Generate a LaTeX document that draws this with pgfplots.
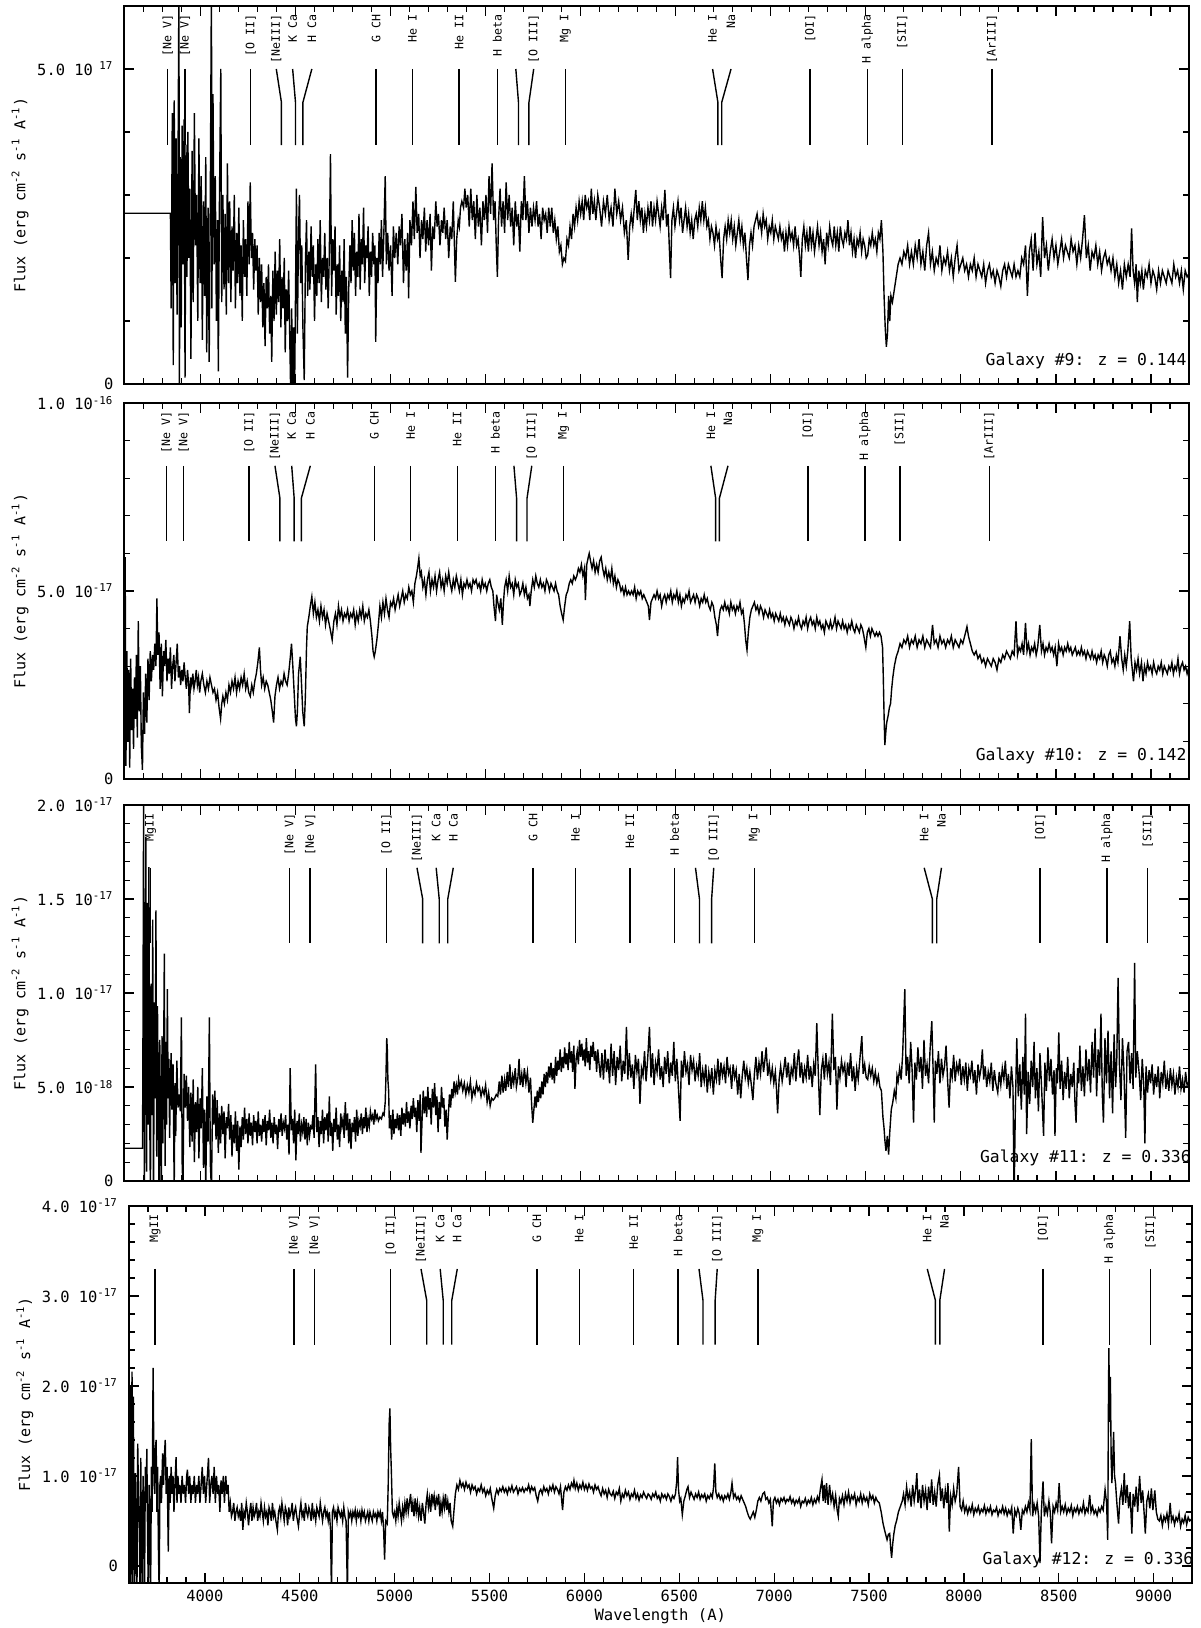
\documentclass[border=0pt]{standalone}
\usepackage{pgfplots}
\pgfplotsset{compat=1.18}
\usepackage{pgfplotstable}
\usepackage{fontspec}
\setmainfont{DejaVu Sans Mono}

% spectra, flux in units of 1e-17 (panel 3: 1e-18)
\pgfplotstableread{
x y
3600 2.71
3842 2.71
3846 1.2
3852 4.3
3857 0.3
3862 4.5
3867 1.6
3872 3.9
3877 1.1
3882 3.4
3887 6.5
3889 -0.3
3894 3.6
3899 0.9
3904 4.1
3909 1.9
3914 4.2
3919 0.1
3924 3.8
3929 1.7
3934 4.0
3939 2.0
3944 3.1
3950 0.4
3956 3.7
3962 1.3
3968 4.3
3974 2.2
3980 3.0
3986 1.0
3992 3.9
3998 1.6
4004 3.3
4010 0.7
4016 2.9
4022 1.4
4028 3.6
4033 0.5
4040 2.8
4046 0.35
4052 3.0
4058 6.5
4060 1.2
4066 4.6
4072 1.9
4078 3.3
4084 1.0
4090 2.6
4094 0.2
4100 2.9
4107 5.0
4112 1.3
4118 3.0
4124 1.5
4130 2.7
4136 1.1
4142 3.5
4148 1.6
4154 2.9
4160 1.3
4166 2.5
4172 1.8
4178 3.0
4184 1.2
4190 2.4
4196 1.6
4202 2.8
4208 1.4
4214 2.2
4220 1.0
4226 2.6
4232 1.7
4238 2.3
4244 1.4
4250 2.9
4256 1.9
4262 3.2
4268 2.0
4274 2.4
4280 1.5
4286 2.3
4292 1.8
4298 2.2
4304 1.1
4310 2.0
4316 1.3
4322 1.9
4328 0.9
4334 1.6
4340 0.6
4346 1.7
4352 1.2
4358 1.9
4364 0.8
4370 1.4
4375 0.35
4381 1.8
4387 1.0
4393 2.1
4399 1.1
4405 1.8
4411 1.3
4417 2.3
4423 0.9
4429 1.7
4435 1.2
4441 2.0
4446 0.5
4452 1.5
4458 1.0
4464 1.8
4470 0.7
4475 -0.2
4480 1.2
4485 -0.3
4490 0.9
4495 -0.2
4500 1.4
4505 3.1
4510 0.8
4516 2.4
4521 3.0
4527 1.6
4533 2.2
4539 0.9
4546 0.06
4552 1.9
4558 2.6
4564 1.4
4570 2.1
4576 1.5
4582 2.5
4588 1.7
4594 2.2
4600 1.0
4606 1.9
4612 1.4
4618 2.3
4624 1.6
4630 2.6
4636 1.3
4642 2.0
4648 1.7
4654 2.4
4660 1.5
4666 2.0
4672 1.2
4678 2.1
4684 3.65
4690 1.4
4696 2.3
4702 1.8
4708 2.5
4714 1.1
4720 1.9
4726 1.4
4732 2.2
4738 1.0
4744 1.8
4750 1.3
4756 2.3
4762 0.8
4768 1.7
4774 0.1
4780 1.5
4786 2.2
4792 1.6
4798 2.6
4804 1.8
4810 2.4
4816 1.4
4822 2.1
4828 1.7
4834 2.7
4840 1.5
4846 2.3
4852 1.9
4858 2.8
4864 1.6
4870 2.2
4876 2.0
4882 2.5
4888 1.4
4894 2.1
4900 1.7
4906 2.4
4912 1.9
4918 2.2
4922 0.67
4928 2.0
4934 1.6
4940 2.4
4946 1.9
4952 2.6
4958 1.7
4964 2.3
4972 3.3
4978 1.9
4985 2.4
4992 1.8
5000 2.2
5008 1.4
5015 2.5
5022 2.0
5030 2.4
5038 1.9
5045 2.5
5052 2.2
5060 2.7
5068 1.6
5075 2.3
5082 1.8
5090 2.4
5095 1.36
5102 2.6
5110 2.2
5118 2.9
5125 2.3
5133 3.13
5140 2.4
5148 2.7
5155 2.0
5163 2.6
5170 2.3
5178 2.8
5185 2.1
5192 2.6
5200 2.2
5208 2.7
5215 1.8
5222 2.5
5230 2.3
5238 2.9
5245 2.5
5252 2.7
5260 2.2
5268 2.6
5275 2.4
5282 2.8
5290 2.3
5298 2.6
5306 2.0
5314 2.5
5322 2.3
5330 2.9
5336 2.2
5341 1.62
5348 2.3
5356 2.6
5362 2.5
5368 2.8
5375 2.9
5384 2.8
5391 3.1
5398 2.8
5406 3.0
5414 2.5
5422 3.1
5430 2.6
5438 2.9
5446 2.3
5454 3.0
5462 2.5
5470 2.8
5478 2.2
5486 2.9
5494 2.6
5502 3.0
5510 2.4
5518 3.3
5526 2.7
5534 3.5
5542 2.6
5550 2.9
5556 2.2
5562 1.7
5568 2.6
5576 3.1
5584 2.5
5592 2.9
5600 2.4
5608 3.2
5616 2.6
5624 3.0
5632 2.5
5640 2.8
5648 2.2
5656 2.9
5664 2.5
5672 2.7
5680 2.1
5688 2.9
5696 2.6
5704 3.3
5712 2.6
5720 2.9
5728 2.4
5736 2.8
5744 2.5
5752 2.8
5760 2.6
5768 2.9
5776 2.5
5784 2.7
5792 2.3
5800 2.8
5808 2.6
5816 2.7
5824 2.4
5832 2.8
5840 2.5
5848 2.8
5856 2.4
5864 2.6
5872 2.3
5880 2.5
5888 2.1
5896 2.2
5904 1.9
5912 2.0
5920 1.95
5928 2.3
5936 2.2
5944 2.5
5952 2.3
5960 2.7
5968 2.5
5976 2.8
5984 2.6
5992 2.9
6000 2.7
6008 2.9
6016 2.6
6024 3.0
6032 2.8
6040 2.9
6048 2.6
6056 3.1
6064 2.7
6072 2.9
6080 2.6
6090 3.0
6100 2.8
6110 2.5
6120 2.9
6130 2.7
6140 3.0
6150 2.6
6160 2.8
6170 2.5
6180 3.1
6190 2.7
6200 2.9
6210 2.6
6220 2.8
6230 2.4
6240 2.6
6250 1.97
6258 2.5
6266 2.7
6274 2.5
6282 2.8
6290 3.08
6298 2.6
6306 2.9
6314 2.6
6322 2.8
6330 2.4
6338 2.7
6346 2.5
6354 2.8
6362 2.6
6370 2.9
6378 2.5
6386 2.8
6394 2.6
6402 2.9
6410 2.7
6418 2.5
6426 2.8
6434 2.6
6443 3.08
6452 2.5
6460 2.7
6466 2.2
6473 1.68
6480 2.6
6488 2.8
6496 2.5
6504 2.7
6512 2.9
6520 2.6
6528 2.8
6536 2.4
6544 2.6
6552 2.8
6560 2.5
6568 2.7
6576 2.4
6584 2.6
6592 2.3
6600 2.6
6608 2.7
6616 2.5
6624 2.8
6632 2.6
6640 2.9
6648 2.6
6656 2.8
6664 2.5
6672 2.6
6680 2.3
6688 2.5
6696 2.4
6704 2.2
6712 2.5
6720 2.3
6728 2.4
6736 2.0
6744 1.68
6752 2.3
6760 2.5
6768 2.3
6776 2.6
6784 2.4
6792 2.6
6800 2.3
6808 2.5
6816 2.2
6824 2.4
6832 2.6
6840 2.3
6848 2.5
6856 2.2
6864 2.4
6872 2.0
6880 1.65
6888 2.2
6896 2.4
6904 2.2
6912 2.5
6920 2.6
6928 2.7
6936 2.5
6944 2.6
6952 2.4
6960 2.7
6968 2.5
6976 2.6
6984 2.3
6992 2.5
7000 2.4
7008 2.6
7016 2.3
7024 2.5
7032 2.4
7040 2.3
7048 2.5
7056 2.3
7064 2.4
7072 2.1
7080 2.4
7088 2.2
7096 2.5
7104 2.3
7112 2.4
7120 2.2
7128 2.5
7136 2.2
7144 2.3
7152 2.0
7158 1.7
7166 2.3
7174 2.5
7182 2.2
7190 2.4
7198 2.1
7206 2.5
7214 2.2
7222 2.4
7230 2.1
7238 2.3
7246 2.5
7254 2.2
7262 2.4
7270 2.1
7278 2.3
7286 1.9
7294 2.4
7302 2.2
7310 2.5
7318 2.3
7326 2.2
7334 2.5
7342 2.2
7350 2.4
7358 2.1
7366 2.5
7374 2.3
7382 2.2
7390 2.4
7398 2.3
7406 2.6
7414 2.2
7422 2.4
7430 2.1
7438 2.3
7446 2.0
7454 2.3
7462 2.2
7470 2.4
7478 2.1
7486 2.3
7494 2.2
7502 2.0
7510 2.05
7518 2.3
7526 2.2
7534 2.4
7542 2.2
7550 2.3
7558 2.1
7566 2.4
7574 2.3
7582 2.6
7590 2.1
7596 1.4
7602 0.9
7608 0.59
7614 0.8
7620 1.4
7626 1.0
7632 1.4
7640 1.3
7650 1.5
7660 1.7
7670 1.9
7680 2.0
7690 1.9
7700 2.1
7710 2.0
7720 2.2
7730 1.9
7740 2.1
7750 1.9
7760 2.2
7770 2.0
7780 2.3
7790 1.9
7800 2.1
7810 1.8
7820 2.2
7830 2.4
7840 1.9
7850 2.1
7860 1.8
7870 2.0
7880 1.9
7890 2.2
7900 1.8
7910 2.0
7920 1.9
7930 2.1
7940 1.8
7950 2.0
7960 1.7
7970 2.0
7980 2.2
7990 1.8
8000 1.9
8010 2.0
8020 1.8
8030 1.9
8040 1.7
8050 1.9
8060 1.8
8070 2.0
8080 1.7
8090 1.9
8100 1.8
8110 1.7
8120 1.9
8130 1.6
8140 1.8
8150 1.9
8160 1.7
8170 1.8
8180 1.6
8190 1.8
8200 1.7
8210 1.55
8220 1.8
8230 1.9
8240 1.7
8250 1.9
8260 1.8
8270 1.7
8280 1.9
8290 1.7
8300 1.8
8310 1.7
8320 2.0
8330 1.9
8340 2.2
8350 1.4
8360 2.1
8370 2.3
8380 1.8
8390 2.4
8400 1.9
8410 2.1
8420 1.7
8430 2.65
8440 2.0
8450 2.2
8460 1.8
8470 2.1
8480 2.3
8490 2.0
8500 2.2
8510 1.9
8520 2.1
8530 2.3
8540 2.0
8550 2.2
8560 2.1
8570 2.0
8580 2.3
8590 2.1
8600 2.2
8610 1.9
8620 2.2
8630 2.0
8640 2.3
8650 2.68
8660 2.0
8670 2.2
8680 1.8
8690 2.1
8700 2.0
8710 2.2
8720 1.9
8730 2.1
8740 1.8
8750 2.0
8760 2.1
8770 1.9
8780 2.0
8790 1.8
8800 2.0
8810 1.7
8820 1.9
8830 1.6
8840 1.8
8850 1.5
8860 1.9
8870 1.7
8880 1.9
8890 1.7
8898 2.47
8906 1.8
8914 1.6
8922 1.9
8928 1.3
8936 1.8
8944 1.6
8952 1.8
8960 1.5
8970 1.8
8980 1.7
8990 1.9
9000 1.6
9010 1.8
9020 1.7
9030 1.5
9040 1.8
9050 1.6
9060 1.8
9070 1.7
9080 1.6
9090 1.8
9100 1.7
9110 1.6
9120 1.9
9130 1.7
9140 1.8
9150 1.6
9160 1.8
9170 1.5
9180 1.8
9190 1.7
9200 1.75
}\specA

\pgfplotstableread{
x y
3600 4.0
3604 5.9
3608 0.35
3613 3.4
3618 1.0
3623 2.9
3628 0.3
3633 3.2
3638 1.3
3643 2.4
3648 0.8
3653 2.7
3658 1.6
3663 3.3
3668 1.1
3673 4.2
3678 1.8
3684 3.0
3689 0.9
3695 0.24
3700 2.3
3706 1.2
3712 2.8
3718 1.5
3724 3.2
3730 2.1
3736 3.4
3742 2.6
3748 3.3
3754 2.9
3760 3.6
3766 3.0
3771 4.8
3776 3.3
3782 3.9
3788 2.4
3794 3.6
3800 2.2
3806 3.4
3812 3.0
3818 3.7
3824 2.6
3830 3.2
3836 2.8
3842 3.5
3848 2.4
3854 3.0
3860 3.3
3866 2.6
3872 3.1
3878 3.6
3884 2.7
3890 3.0
3896 2.5
3902 2.9
3908 2.6
3914 3.1
3920 2.7
3926 2.4
3932 2.9
3938 2.5
3942 1.75
3948 2.7
3954 2.5
3960 2.8
3966 2.4
3972 2.6
3978 2.9
3984 2.5
3990 2.7
3996 2.3
4002 2.6
4010 2.8
4018 2.5
4026 2.3
4034 2.6
4042 2.4
4050 2.7
4058 2.5
4066 2.3
4074 2.4
4082 2.1
4090 2.3
4098 1.9
4106 1.6
4112 2.0
4118 2.2
4126 2.0
4134 2.3
4142 2.1
4150 2.5
4158 2.3
4166 2.6
4174 2.4
4182 2.7
4190 2.3
4198 2.6
4206 2.4
4214 2.7
4222 2.5
4230 2.8
4238 2.4
4246 2.6
4254 2.3
4262 2.2
4270 2.5
4278 2.3
4286 2.6
4294 2.8
4302 3.1
4310 3.5
4316 2.9
4322 2.5
4330 2.7
4338 2.4
4346 2.6
4354 2.5
4362 2.3
4370 2.1
4378 1.8
4385 1.5
4392 2.2
4400 2.5
4408 2.7
4416 2.4
4424 2.6
4432 2.5
4440 2.8
4448 2.6
4456 2.5
4464 2.8
4472 3.2
4479 3.6
4486 3.0
4494 2.2
4500 1.6
4505 1.4
4510 1.8
4516 2.8
4525 3.25
4532 2.5
4538 1.8
4546 1.4
4552 2.2
4558 3.5
4562 4.05
4570 4.3
4578 4.6
4586 4.85
4594 4.4
4602 4.7
4610 4.3
4618 4.5
4626 4.2
4634 4.6
4642 4.3
4650 4.5
4658 4.1
4666 4.4
4674 4.2
4682 4.0
4693 3.7
4702 4.2
4710 4.4
4718 4.1
4726 4.6
4734 4.3
4742 4.5
4750 4.2
4758 4.4
4766 4.3
4774 4.5
4782 4.2
4790 4.4
4798 4.3
4806 4.5
4814 4.1
4822 4.4
4830 4.2
4838 4.5
4846 4.3
4854 4.6
4862 4.2
4870 4.4
4878 4.3
4886 4.5
4894 4.2
4902 3.8
4908 3.4
4914 3.25
4920 3.4
4928 3.7
4936 4.1
4944 4.6
4952 4.3
4960 4.7
4968 4.4
4976 4.8
4984 4.5
4992 4.3
5000 4.7
5008 4.6
5016 4.8
5024 4.5
5032 4.7
5040 4.9
5048 4.6
5056 4.8
5064 5.0
5072 4.7
5080 4.9
5088 4.8
5096 5.1
5104 4.9
5112 5.0
5120 4.7
5128 5.2
5136 5.4
5142 5.6
5149 5.87
5156 5.4
5162 5.5
5170 5.1
5178 5.3
5186 4.9
5194 5.3
5202 5.5
5210 5.0
5218 5.3
5226 5.1
5234 5.4
5242 5.0
5250 5.3
5258 5.5
5266 5.1
5274 5.3
5282 5.0
5290 5.4
5298 5.2
5306 5.5
5314 5.2
5322 5.0
5330 5.3
5338 5.1
5346 5.4
5354 5.2
5362 5.0
5370 5.3
5378 4.9
5386 5.2
5394 5.1
5402 5.3
5410 5.1
5418 5.2
5426 5.0
5434 5.3
5442 5.2
5450 5.3
5458 5.1
5466 5.2
5474 5.0
5482 5.3
5490 5.1
5498 5.2
5506 5.0
5514 5.2
5522 5.3
5530 5.1
5538 5.0
5544 4.6
5552 4.2
5558 4.9
5564 4.7
5572 4.5
5580 4.8
5588 4.1
5594 4.7
5600 5.1
5608 5.3
5616 5.0
5624 5.4
5632 5.1
5640 5.2
5648 4.9
5656 5.3
5664 5.1
5672 5.2
5680 4.9
5688 5.0
5696 5.2
5704 4.9
5712 5.1
5720 4.8
5728 4.9
5733 4.6
5740 5.0
5748 5.3
5756 5.1
5764 5.4
5772 5.2
5780 5.1
5788 5.3
5796 5.1
5804 5.2
5812 5.0
5820 5.3
5828 5.2
5836 5.0
5844 5.2
5852 5.1
5860 5.0
5868 5.2
5876 5.0
5884 4.9
5892 4.6
5900 4.4
5908 4.23
5916 4.6
5924 4.9
5932 5.0
5940 5.2
5948 5.3
5956 5.2
5964 5.4
5972 5.3
5980 5.4
5988 5.6
5996 5.5
6004 5.7
6012 5.4
6020 5.6
6025 4.76
6032 5.7
6040 5.9
6045 6.0
6052 5.8
6060 5.6
6068 5.8
6076 5.5
6084 5.7
6092 5.5
6100 5.8
6108 5.9
6116 5.6
6124 5.4
6132 5.6
6140 5.3
6148 5.5
6156 5.3
6164 5.6
6172 5.2
6180 5.4
6188 5.1
6196 5.3
6204 5.2
6212 5.0
6220 5.1
6228 4.9
6236 5.1
6244 4.9
6252 5.0
6260 4.9
6268 5.0
6276 4.9
6284 5.1
6292 4.8
6300 5.0
6308 4.9
6316 5.0
6324 4.8
6332 4.9
6340 4.8
6348 4.7
6356 4.6
6362 4.23
6370 4.7
6378 4.8
6386 4.9
6394 4.8
6402 5.0
6410 4.8
6418 4.9
6426 4.6
6434 4.8
6442 4.9
6450 4.7
6458 4.9
6466 4.8
6474 5.0
6482 4.7
6490 4.9
6498 4.8
6506 5.0
6514 4.7
6522 4.9
6530 4.6
6538 4.8
6546 4.7
6554 4.9
6562 4.8
6570 5.0
6578 4.7
6586 4.8
6594 4.9
6602 4.7
6610 4.9
6618 4.8
6626 4.6
6634 4.8
6642 4.7
6650 4.9
6658 4.7
6666 4.8
6674 4.6
6682 4.5
6690 4.7
6698 4.6
6706 4.3
6714 4.1
6720 3.8
6726 4.2
6734 4.5
6742 4.6
6750 4.5
6758 4.7
6766 4.5
6774 4.6
6782 4.4
6790 4.7
6798 4.5
6806 4.6
6814 4.4
6822 4.6
6830 4.5
6838 4.7
6846 4.4
6854 4.5
6862 4.1
6868 3.7
6875 3.43
6882 3.9
6890 4.3
6898 4.5
6906 4.6
6914 4.7
6922 4.5
6930 4.6
6938 4.4
6946 4.6
6954 4.5
6962 4.3
6970 4.5
6978 4.4
6986 4.3
6994 4.5
7002 4.3
7010 4.4
7018 4.2
7026 4.4
7034 4.3
7042 4.2
7050 4.4
7058 4.2
7066 4.3
7074 4.1
7082 4.3
7090 4.2
7098 4.1
7106 4.3
7114 4.2
7122 4.0
7130 4.2
7138 4.1
7146 4.3
7154 4.1
7162 4.0
7170 4.2
7178 4.1
7186 4.3
7194 4.0
7202 4.2
7210 4.3
7218 4.1
7226 4.2
7234 4.0
7242 4.3
7250 4.1
7258 4.2
7266 4.0
7274 4.1
7282 3.9
7290 4.2
7298 4.1
7306 4.0
7314 4.2
7322 4.0
7330 4.1
7338 4.3
7346 4.0
7354 4.2
7362 4.1
7370 4.0
7378 4.2
7386 4.0
7394 4.1
7402 3.9
7410 4.1
7418 4.0
7426 4.2
7434 4.0
7442 3.9
7450 4.1
7458 4.0
7466 3.9
7474 4.1
7482 4.0
7490 3.8
7500 3.5
7508 3.9
7516 4.0
7524 3.8
7532 4.0
7540 3.9
7548 3.8
7556 3.9
7564 3.8
7572 3.9
7580 3.8
7588 3.5
7592 2.7
7596 1.7
7600 0.9
7606 1.3
7610 1.5
7618 1.7
7624 1.9
7630 2.0
7636 2.4
7642 2.7
7650 3.0
7660 3.25
7670 3.4
7680 3.6
7690 3.5
7700 3.7
7710 3.6
7720 3.8
7730 3.5
7740 3.7
7750 3.6
7760 3.8
7770 3.5
7780 3.7
7790 3.6
7800 3.8
7810 3.5
7820 3.7
7830 3.6
7840 3.5
7851 4.1
7860 3.6
7870 3.7
7880 3.5
7890 3.8
7900 3.6
7910 3.7
7920 3.5
7930 3.7
7940 3.6
7950 3.8
7960 3.5
7970 3.7
7980 3.6
7990 3.5
8000 3.7
8010 3.6
8020 3.8
8032 4.05
8040 3.8
8050 3.6
8060 3.4
8070 3.3
8080 3.4
8090 3.2
8100 3.3
8110 3.1
8120 3.2
8130 3.0
8140 3.2
8150 3.1
8160 3.0
8170 3.2
8180 3.1
8190 2.9
8200 3.2
8210 3.1
8220 3.3
8230 3.2
8240 3.4
8250 3.3
8260 3.2
8270 3.4
8280 3.3
8290 4.2
8298 3.3
8306 3.5
8314 3.4
8322 3.6
8330 3.3
8340 4.15
8348 3.4
8356 3.6
8364 3.3
8372 3.5
8380 3.4
8388 3.6
8396 3.3
8404 3.5
8415 4.1
8424 3.4
8432 3.6
8440 3.3
8448 3.5
8456 3.4
8464 3.6
8472 3.4
8480 3.5
8488 3.3
8496 3.5
8505 3.0
8514 3.6
8522 3.4
8530 3.5
8538 3.3
8546 3.5
8554 3.4
8562 3.6
8570 3.4
8578 3.5
8586 3.3
8594 3.4
8602 3.5
8610 3.3
8618 3.4
8626 3.3
8634 3.5
8642 3.3
8650 3.4
8658 3.2
8666 3.4
8674 3.3
8682 3.2
8690 3.4
8698 3.2
8706 3.3
8714 3.1
8722 3.3
8730 3.2
8738 3.4
8746 3.1
8754 3.3
8762 3.2
8770 3.0
8778 3.3
8786 3.4
8794 3.1
8802 3.2
8810 3.0
8818 3.3
8826 3.1
8837 3.8
8846 3.2
8854 2.9
8862 3.3
8870 3.0
8878 3.4
8888 4.2
8896 3.2
8908 2.6
8916 3.1
8924 2.9
8932 3.2
8940 2.8
8950 3.1
8958 2.6
8966 3.0
8974 2.8
8982 3.1
8990 2.9
8998 3.0
9006 2.8
9014 3.1
9022 2.9
9030 2.8
9038 3.0
9046 2.9
9054 3.1
9062 2.8
9070 3.0
9078 2.9
9086 2.8
9094 3.0
9102 2.9
9110 3.1
9118 2.8
9126 3.0
9134 2.9
9142 3.2
9150 2.8
9158 3.0
9166 3.1
9174 2.9
9182 3.0
9190 2.8
9200 3.0
}\specB

\pgfplotstableread{
x y
3600 1.74
3695 1.74
3697 5.4
3701 20.5
3705 -1
3709 6.8
3713 18.3
3717 0.5
3721 14.8
3725 3.0
3729 16.7
3733 3.9
3737 -1
3741 10.5
3745 3.5
3749 13.9
3753 -1
3758 9.5
3762 4.4
3766 14.4
3770 1.3
3774 9.3
3778 4.8
3782 -1
3786 7.5
3790 2.5
3794 -0.5
3798 7.7
3802 2.0
3806 5.9
3810 12.1
3814 0.8
3818 7.4
3822 3.0
3826 10.2
3830 4.4
3834 6.5
3838 2.3
3842 5.5
3846 6.8
3850 3.8
3856 6.2
3862 -0.5
3866 5.2
3870 2.4
3876 6.4
3882 3.9
3888 4.6
3894 3.7
3900 8.7
3904 0.9
3908 -0.5
3914 5.7
3920 3.9
3926 5.6
3932 3.2
3938 5.0
3944 1.8
3950 4.7
3956 2.1
3962 5.4
3968 1.0
3974 4.2
3980 2.6
3986 5.0
3992 1.2
3998 4.4
4004 2.8
4010 6.0
4016 0.7
4022 3.8
4028 -0.4
4034 4.5
4040 2.1
4047 8.7
4052 0.9
4058 -0.5
4064 4.6
4070 3.0
4076 4.8
4082 2.2
4088 4.3
4094 1.5
4100 3.6
4106 2.0
4112 4.0
4118 2.5
4124 3.7
4130 1.2
4136 3.4
4142 2.8
4148 4.1
4154 2.2
4160 3.5
4166 1.3
4172 3.0
4178 2.0
4184 3.7
4190 1.6
4196 3.2
4202 0.6
4208 2.9
4214 1.8
4220 3.4
4226 2.2
4232 3.9
4238 2.5
4244 3.3
4250 2.0
4256 3.6
4262 2.4
4268 3.1
4274 1.9
4280 3.5
4286 2.6
4292 3.2
4298 2.0
4304 3.7
4310 2.4
4316 3.0
4322 2.1
4328 3.3
4334 2.6
4340 3.5
4346 1.9
4352 3.2
4358 2.7
4364 3.8
4370 2.3
4376 3.1
4382 2.0
4388 3.4
4394 2.5
4400 3.0
4406 1.7
4412 3.3
4418 2.6
4424 3.6
4430 2.4
4436 3.1
4442 2.8
4448 3.5
4454 2.2
4460 3.0
4466 1.4
4472 6.0
4478 2.7
4484 3.3
4490 2.0
4496 3.8
4502 1.1
4508 3.2
4514 2.5
4520 3.6
4526 2.1
4532 3.0
4538 2.6
4544 3.4
4550 2.2
4556 3.3
4562 1.9
4568 3.1
4574 2.4
4580 2.9
4586 2.8
4592 3.5
4598 2.3
4606 6.2
4612 2.6
4618 3.4
4624 1.8
4630 3.2
4636 2.5
4642 3.8
4648 2.0
4654 3.4
4660 2.7
4666 3.6
4672 2.1
4678 4.5
4684 2.4
4690 3.1
4696 1.6
4702 3.3
4708 2.6
4714 3.9
4720 2.2
4726 3.0
4732 1.8
4738 3.6
4744 2.9
4750 3.3
4756 2.3
4762 4.2
4768 2.7
4774 3.6
4780 2.0
4786 3.3
4792 1.7
4798 3.1
4804 2.6
4810 3.4
4816 2.1
4822 3.8
4828 2.4
4834 3.2
4840 2.9
4846 3.6
4852 2.5
4858 3.4
4864 2.8
4870 3.9
4876 2.6
4882 3.3
4888 2.9
4894 3.7
4900 3.3
4906 3.5
4912 3.0
4918 3.8
4924 3.3
4930 3.5
4936 3.2
4944 3.4
4952 3.3
4960 3.6
4966 3.5
4972 4.2
4976 5.6
4980 7.6
4983 7.0
4986 5.4
4990 4.8
4994 2.8
5000 3.5
5006 2.2
5012 3.8
5018 2.5
5024 3.3
5030 2.8
5036 3.6
5042 2.7
5048 3.5
5054 2.4
5060 3.9
5066 3.0
5072 3.6
5078 2.9
5084 4.2
5090 3.1
5096 3.7
5102 2.8
5108 4.0
5114 3.3
5120 4.4
5126 3.4
5132 3.9
5138 2.6
5144 4.3
5150 3.2
5156 4.6
5160 1.5
5166 3.3
5172 4.8
5178 3.6
5184 4.5
5190 3.4
5196 5.0
5202 3.8
5208 4.4
5214 3.0
5220 4.9
5226 3.9
5232 5.2
5238 3.5
5244 4.5
5250 2.6
5256 4.2
5262 3.3
5268 5.0
5274 3.9
5280 4.4
5286 2.9
5292 3.8
5298 2.2
5304 3.5
5310 4.6
5316 3.9
5322 4.9
5328 4.4
5334 5.3
5340 4.7
5346 5.1
5352 4.6
5358 5.4
5364 5.0
5372 5.3
5380 4.8
5388 5.2
5396 4.6
5404 5.1
5412 4.7
5420 5.3
5428 4.4
5436 4.9
5444 4.6
5452 5.2
5460 4.8
5468 5.0
5476 4.5
5484 4.9
5492 4.6
5500 5.1
5508 4.2
5516 4.7
5524 4.0
5532 4.4
5540 4.3
5548 4.4
5556 4.6
5564 4.5
5572 5.3
5578 4.6
5586 5.6
5592 4.7
5600 5.4
5606 4.8
5614 5.8
5620 5.0
5628 6.2
5634 4.9
5642 5.6
5648 5.2
5656 6.0
5662 5.0
5670 5.5
5676 6.5
5682 5.1
5690 5.7
5696 5.0
5704 6.0
5712 5.2
5720 5.8
5728 4.7
5736 5.5
5742 4.1
5748 3.1
5754 3.8
5760 4.5
5766 3.9
5772 4.8
5778 4.2
5784 5.0
5790 4.4
5796 5.3
5802 4.6
5808 5.7
5814 5.0
5820 5.8
5826 5.2
5832 6.1
5838 5.5
5844 6.3
5850 5.4
5856 6.0
5862 5.2
5868 6.6
5874 5.6
5880 6.4
5886 5.9
5892 7.0
5898 5.8
5904 6.6
5910 6.0
5916 7.1
5922 6.2
5928 6.8
5934 5.9
5940 7.4
5946 6.3
5952 6.9
5958 5.8
5964 7.2
5970 4.9
5976 6.5
5982 6.9
5988 6.2
5994 7.5
6000 6.6
6006 7.3
6012 6.4
6018 7.0
6024 6.1
6030 7.6
6036 6.3
6042 6.9
6048 5.9
6054 7.2
6060 6.6
6066 7.4
6072 6.4
6078 6.9
6084 5.8
6090 7.0
6096 6.3
6104 5.5
6112 6.8
6120 5.4
6128 7.0
6136 5.8
6144 6.5
6152 5.2
6160 7.3
6168 5.6
6176 6.9
6184 5.1
6192 6.6
6200 5.9
6208 7.2
6216 5.3
6224 6.4
6232 5.7
6241 8.2
6248 5.4
6256 6.8
6264 5.5
6272 6.2
6280 4.9
6288 6.7
6296 5.8
6304 6.5
6312 4.1
6320 6.0
6328 5.6
6336 6.9
6344 5.3
6352 6.4
6362 8.2
6370 5.5
6378 6.8
6386 5.1
6394 6.3
6402 5.8
6410 7.0
6418 5.4
6426 6.1
6434 5.0
6442 6.6
6450 5.7
6458 6.9
6466 5.2
6474 6.3
6482 5.6
6490 7.4
6498 5.3
6506 6.5
6514 5.0
6523 3.2
6530 6.4
6538 5.5
6546 6.9
6554 5.8
6562 6.2
6570 5.1
6578 6.7
6586 5.9
6594 6.4
6602 5.3
6610 6.1
6618 5.6
6626 6.8
6634 5.0
6642 5.9
6650 5.3
6658 6.2
6666 4.7
6674 5.8
6682 5.2
6690 6.0
6698 4.6
6706 5.9
6714 5.4
6722 6.5
6730 5.1
6738 6.3
6746 5.6
6754 6.1
6762 5.2
6770 6.6
6778 5.7
6786 6.0
6794 4.9
6802 6.2
6810 5.5
6818 5.9
6826 4.6
6834 5.7
6842 4.4
6850 5.6
6858 6.4
6866 5.5
6874 6.0
6882 5.2
6890 5.8
6898 5.1
6906 4.3
6914 5.7
6922 6.6
6930 5.4
6938 6.3
6946 5.7
6954 6.9
6962 5.8
6970 6.5
6976 7.1
6984 5.6
6992 6.2
7000 5.4
7008 6.0
7016 5.2
7024 5.8
7030 4.9
7036 3.6
7044 5.4
7052 6.1
7060 5.3
7068 5.9
7076 6.6
7084 5.5
7092 6.3
7100 5.1
7108 6.0
7116 5.6
7124 6.8
7132 5.3
7140 6.4
7147 7.0
7154 5.5
7162 6.3
7170 5.2
7178 6.0
7186 5.5
7194 6.7
7202 5.4
7210 6.1
7218 5.0
7226 6.2
7234 5.6
7242 8.4
7250 5.8
7258 3.5
7266 5.9
7274 6.5
7282 5.4
7290 6.8
7298 5.7
7306 6.3
7314 5.1
7324 8.9
7332 5.9
7340 6.6
7348 3.8
7356 6.1
7364 5.5
7372 6.4
7380 5.8
7389 6.2
7396 5.0
7404 6.3
7412 5.6
7420 6.8
7428 5.3
7436 6.1
7444 4.8
7452 6.0
7460 5.4
7468 6.4
7479 7.7
7486 5.7
7494 6.2
7502 5.5
7510 5.4
7518 6.1
7526 5.6
7534 6.0
7542 5.3
7550 5.8
7558 5.2
7566 5.6
7574 5.0
7582 4.8
7590 3.4
7596 2.8
7600 2.2
7606 1.6
7613 2.4
7620 1.4
7626 2.6
7634 3.8
7642 4.2
7650 4.8
7658 4.4
7664 5.6
7670 5.3
7678 6.0
7686 5.4
7694 6.8
7705 10.2
7712 5.6
7720 6.6
7728 5.2
7736 7.4
7744 5.8
7751 3.1
7758 6.3
7766 5.4
7774 7.1
7782 5.8
7790 6.6
7798 4.9
7806 7.5
7814 5.6
7822 6.2
7830 5.2
7838 7.0
7847 8.5
7854 5.9
7860 3.1
7866 6.4
7874 5.7
7882 6.9
7890 5.2
7898 6.5
7906 5.6
7914 6.1
7922 7.2
7930 5.4
7938 3.9
7946 6.0
7954 5.5
7962 6.7
7970 5.3
7978 6.2
7986 5.8
7994 6.5
8002 5.1
8010 6.1
8018 5.4
8026 6.3
8034 4.8
8042 6.0
8050 5.6
8058 6.4
8066 5.2
8074 5.9
8082 4.6
8090 6.2
8098 5.5
8106 6.0
8113 7.0
8120 5.4
8128 6.1
8136 5.0
8144 5.8
8152 5.3
8160 6.3
8168 4.8
8176 5.9
8184 5.2
8194 4.7
8202 5.8
8210 5.1
8218 6.0
8226 5.4
8234 6.4
8242 4.9
8250 5.7
8258 4.4
8266 6.1
8274 5.0
8280 -1.0
8286 3.5
8294 7.6
8302 4.5
8310 6.2
8318 3.8
8326 6.6
8334 4.6
8340 8.9
8346 2.5
8354 5.8
8362 4.1
8370 6.4
8378 5.0
8385 7.4
8392 4.4
8400 6.0
8408 3.7
8416 6.8
8424 5.1
8435 2.4
8442 6.3
8450 4.8
8458 7.1
8466 5.3
8474 6.5
8482 4.6
8490 5.9
8495 2.4
8502 6.0
8508 5.2
8515 7.9
8522 4.9
8530 6.4
8538 4.3
8546 5.8
8554 4.9
8562 6.6
8570 4.4
8578 5.7
8586 5.0
8594 6.3
8600 4.2
8606 3.1
8614 6.0
8620 5.2
8626 7.2
8634 4.8
8642 6.1
8650 4.5
8658 7.0
8666 5.3
8674 6.5
8682 4.7
8690 7.4
8698 5.5
8706 8.1
8714 4.5
8722 7.0
8730 5.6
8737 8.9
8744 4.6
8750 3.1
8758 7.6
8766 5.2
8774 8.0
8782 4.4
8790 6.9
8798 3.6
8806 7.8
8814 5.0
8820 6.4
8827 10.8
8834 6.2
8842 4.3
8850 7.6
8858 5.8
8867 2.3
8874 6.9
8882 7.4
8890 5.2
8898 6.8
8906 4.9
8914 11.6
8920 5.5
8928 6.9
8938 5.7
8946 4.3
8954 6.5
8962 5.1
8968 2.0
8974 6.1
8982 4.7
8990 5.9
8998 5.2
9006 6.2
9014 4.6
9022 5.7
9030 5.0
9038 6.1
9046 4.4
9054 5.8
9062 5.2
9070 6.4
9078 4.9
9086 5.6
9094 4.8
9102 6.0
9110 5.1
9118 5.7
9126 4.6
9134 5.5
9142 5.0
9150 6.1
9158 4.9
9166 5.4
9174 4.7
9182 5.8
9190 5.1
9200 5.3
}\specC

\pgfplotstableread{
x y
3600 1.2
3603 0.4
3606 2.0
3609 -0.3
3613 1.4
3616 2.16
3619 -0.3
3623 1.88
3626 0.5
3630 -0.3
3634 1.03
3638 0.3
3642 -0.3
3646 1.36
3650 0.8
3654 0.47
3658 -0.3
3662 1.2
3666 0.2
3670 -0.3
3674 1.0
3678 0.5
3682 -0.3
3686 1.1
3690 0.7
3694 1.3
3698 0.3
3702 -0.3
3706 0.9
3710 0.4
3714 -0.3
3718 1.1
3722 0.6
3727 2.2
3731 1.2
3735 0.8
3739 1.3
3743 1.4
3747 0.6
3751 1.1
3755 0.2
3759 -0.3
3763 0.9
3767 1.0
3771 0.7
3777 1.25
3782 0.9
3786 1.2
3791 1.4
3796 0.8
3801 1.1
3807 0.16
3812 1.0
3817 0.7
3822 1.1
3827 0.8
3832 1.0
3837 0.6
3842 0.9
3848 1.21
3853 0.7
3858 1.0
3863 0.8
3868 0.9
3874 0.7
3880 1.0
3886 0.8
3892 0.9
3898 0.7
3904 1.0
3908 1.07
3914 0.8
3920 1.0
3926 0.7
3932 0.9
3938 0.8
3944 1.0
3950 0.7
3956 0.9
3962 0.8
3968 1.0
3974 0.7
3980 0.9
3986 1.1
3992 0.8
3998 1.0
4004 0.7
4010 0.9
4019 1.2
4025 0.7
4031 0.9
4037 1.0
4043 0.8
4049 1.1
4055 0.7
4061 1.0
4067 0.8
4073 0.9
4079 0.6
4085 0.95
4091 0.8
4097 1.0
4103 0.7
4110 1.0
4116 0.8
4122 0.9
4128 0.6
4134 0.7
4140 0.55
4146 0.6
4152 0.7
4158 0.5
4164 0.6
4170 0.65
4176 0.55
4182 0.6
4188 0.5
4194 0.7
4200 0.4
4206 0.6
4212 0.55
4218 0.7
4224 0.6
4230 0.45
4236 0.6
4242 0.7
4248 0.5
4254 0.65
4260 0.55
4266 0.6
4272 0.7
4278 0.5
4284 0.6
4290 0.55
4296 0.7
4302 0.6
4308 0.5
4314 0.65
4320 0.55
4326 0.6
4332 0.45
4338 0.65
4344 0.6
4350 0.5
4356 0.7
4362 0.55
4368 0.6
4374 0.5
4382 0.4
4388 0.6
4394 0.65
4400 0.55
4406 0.7
4412 0.6
4418 0.5
4424 0.65
4430 0.6
4436 0.45
4442 0.65
4448 0.55
4454 0.6
4460 0.7
4466 0.5
4472 0.6
4478 0.65
4484 0.55
4493 0.44
4500 0.6
4506 0.7
4512 0.55
4518 0.6
4524 0.5
4530 0.7
4536 0.6
4542 0.55
4548 0.65
4554 0.6
4560 0.5
4566 0.7
4572 0.55
4578 0.6
4584 0.5
4590 0.65
4596 0.6
4602 0.55
4608 0.7
4614 0.6
4620 0.5
4626 0.6
4632 0.65
4638 0.55
4644 0.6
4650 0.5
4656 0.6
4662 0.4
4667 -0.3
4672 0.6
4678 0.65
4684 0.55
4690 0.6
4696 0.5
4702 0.65
4708 0.6
4714 0.55
4720 0.6
4726 0.5
4732 0.65
4738 0.55
4744 0.5
4751 -0.3
4756 0.6
4762 0.55
4768 0.6
4774 0.5
4780 0.6
4786 0.55
4792 0.62
4798 0.5
4804 0.6
4810 0.55
4816 0.6
4822 0.5
4828 0.62
4834 0.55
4840 0.6
4846 0.5
4852 0.55
4858 0.6
4864 0.5
4870 0.6
4876 0.55
4882 0.5
4888 0.6
4894 0.55
4900 0.58
4906 0.5
4912 0.6
4918 0.55
4924 0.6
4930 0.5
4936 0.6
4942 0.4
4947 0.07
4953 0.5
4961 0.47
4966 0.9
4971 1.58
4975 1.75
4979 1.3
4983 1.03
4988 0.6
4994 0.55
5000 0.6
5006 0.5
5012 0.65
5018 0.55
5024 0.7
5030 0.6
5036 0.5
5042 0.65
5048 0.55
5054 0.7
5060 0.6
5066 0.75
5072 0.6
5078 0.7
5084 0.8
5090 0.6
5096 0.7
5102 0.55
5108 0.75
5114 0.6
5120 0.7
5126 0.55
5132 0.65
5139 0.5
5146 0.7
5152 0.6
5159 0.47
5166 0.7
5172 0.8
5178 0.65
5184 0.75
5190 0.6
5196 0.8
5202 0.7
5208 0.78
5214 0.62
5220 0.75
5226 0.7
5232 0.8
5238 0.55
5244 0.7
5250 0.6
5256 0.75
5262 0.65
5268 0.8
5274 0.62
5280 0.72
5286 0.6
5292 0.7
5298 0.5
5306 0.44
5312 0.6
5320 0.8
5328 0.9
5336 0.85
5344 0.95
5352 0.88
5360 0.92
5368 0.85
5376 0.93
5384 0.87
5392 0.9
5400 0.82
5408 0.9
5416 0.85
5424 0.88
5432 0.8
5440 0.86
5448 0.83
5456 0.9
5464 0.82
5472 0.86
5480 0.78
5488 0.84
5496 0.8
5504 0.86
5512 0.75
5522 0.64
5530 0.78
5538 0.85
5546 0.8
5554 0.86
5562 0.83
5570 0.88
5578 0.82
5586 0.86
5594 0.8
5602 0.87
5610 0.83
5618 0.89
5626 0.82
5634 0.85
5642 0.88
5650 0.8
5658 0.86
5666 0.83
5674 0.87
5682 0.82
5690 0.86
5698 0.84
5706 0.9
5714 0.82
5722 0.88
5730 0.84
5738 0.87
5746 0.78
5754 0.72
5762 0.82
5770 0.85
5778 0.8
5786 0.88
5794 0.83
5802 0.86
5810 0.8
5818 0.88
5826 0.84
5834 0.9
5842 0.82
5850 0.88
5858 0.85
5866 0.8
5874 0.88
5885 0.62
5892 0.82
5900 0.88
5908 0.84
5916 0.9
5924 0.85
5932 0.92
5940 0.88
5945 0.95
5952 0.86
5960 0.92
5968 0.84
5976 0.9
5984 0.86
5992 0.93
6000 0.85
6008 0.9
6016 0.84
6024 0.91
6032 0.86
6040 0.88
6048 0.82
6056 0.9
6064 0.85
6072 0.88
6080 0.82
6088 0.78
6096 0.86
6104 0.8
6112 0.84
6120 0.76
6128 0.85
6136 0.8
6144 0.78
6152 0.83
6160 0.75
6168 0.82
6176 0.79
6184 0.86
6192 0.72
6200 0.8
6208 0.76
6216 0.84
6224 0.78
6232 0.82
6240 0.74
6248 0.8
6256 0.77
6264 0.84
6272 0.75
6280 0.8
6288 0.73
6296 0.79
6304 0.76
6312 0.82
6320 0.78
6328 0.75
6336 0.8
6344 0.78
6352 0.74
6360 0.8
6368 0.77
6376 0.82
6384 0.75
6392 0.78
6400 0.72
6408 0.8
6416 0.76
6424 0.79
6432 0.74
6440 0.8
6448 0.77
6456 0.72
6464 0.78
6472 0.75
6480 0.8
6487 0.95
6491 1.21
6496 0.85
6502 0.72
6508 0.75
6516 0.57
6524 0.72
6532 0.78
6540 0.85
6546 0.88
6554 0.76
6562 0.82
6570 0.78
6578 0.74
6586 0.8
6594 0.76
6602 0.82
6610 0.74
6618 0.79
6626 0.76
6634 0.8
6642 0.72
6650 0.78
6658 0.75
6666 0.8
6674 0.76
6681 0.88
6687 1.14
6693 0.82
6700 0.76
6708 0.8
6716 0.74
6724 0.78
6732 0.72
6740 0.78
6748 0.75
6756 0.8
6764 0.74
6772 0.82
6778 0.92
6786 0.76
6794 0.8
6802 0.74
6810 0.77
6818 0.72
6826 0.78
6834 0.74
6842 0.7
6850 0.66
6858 0.6
6866 0.55
6874 0.52
6882 0.56
6890 0.6
6898 0.54
6906 0.62
6914 0.72
6922 0.76
6930 0.72
6940 0.8
6949 0.82
6956 0.74
6964 0.76
6972 0.7
6980 0.74
6990 0.44
6996 0.72
7004 0.76
7012 0.7
7020 0.74
7028 0.68
7036 0.75
7044 0.72
7052 0.76
7060 0.7
7068 0.74
7076 0.72
7084 0.77
7092 0.7
7100 0.74
7108 0.68
7116 0.73
7124 0.7
7132 0.75
7140 0.66
7148 0.72
7156 0.7
7164 0.75
7172 0.68
7180 0.73
7188 0.7
7196 0.76
7204 0.68
7212 0.74
7220 0.7
7228 0.77
7236 0.72
7244 0.86
7252 0.96
7258 0.72
7264 0.9
7270 0.7
7276 0.92
7284 0.68
7292 0.9
7300 0.72
7308 0.8
7316 0.66
7324 0.78
7332 0.62
7338 0.55
7344 0.75
7352 0.7
7360 0.78
7368 0.68
7376 0.8
7384 0.72
7392 0.82
7400 0.7
7408 0.78
7416 0.74
7424 0.8
7432 0.68
7440 0.76
7448 0.72
7456 0.8
7464 0.7
7472 0.78
7480 0.72
7488 0.76
7496 0.68
7504 0.8
7512 0.74
7520 0.78
7528 0.7
7536 0.76
7544 0.72
7554 0.7
7564 0.6
7574 0.47
7584 0.38
7595 0.29
7602 0.35
7609 0.36
7614 0.2
7619 0.09
7625 0.25
7631 0.36
7638 0.45
7645 0.5
7655 0.6
7665 0.66
7675 0.72
7682 0.8
7690 0.68
7698 0.88
7706 0.74
7714 0.82
7722 0.66
7730 0.9
7738 0.72
7746 0.86
7752 1.03
7758 0.7
7766 0.85
7774 0.64
7782 0.9
7790 0.72
7798 0.84
7806 0.62
7814 0.88
7822 0.7
7830 0.96
7838 0.68
7846 0.82
7854 0.66
7862 0.9
7871 1.01
7878 0.72
7886 0.86
7894 0.64
7902 0.84
7910 0.7
7916 0.92
7923 0.38
7930 0.78
7938 0.68
7946 0.86
7954 0.72
7962 0.8
7972 1.1
7980 0.66
7988 0.62
7996 0.72
8004 0.6
8012 0.66
8020 0.58
8028 0.65
8036 0.6
8044 0.68
8052 0.57
8060 0.64
8068 0.6
8076 0.66
8084 0.58
8092 0.63
8100 0.6
8108 0.67
8116 0.58
8124 0.64
8132 0.6
8140 0.66
8148 0.57
8156 0.62
8164 0.6
8172 0.65
8180 0.56
8188 0.62
8196 0.59
8204 0.66
8212 0.58
8220 0.64
8228 0.56
8236 0.62
8244 0.58
8252 0.65
8260 0.36
8268 0.62
8276 0.56
8284 0.64
8292 0.58
8300 0.4
8308 0.62
8316 0.58
8324 0.66
8332 0.6
8340 0.7
8348 0.62
8355 1.41
8362 0.55
8370 0.68
8378 0.6
8386 0.7
8394 0.55
8401 0.03
8408 0.6
8417 0.94
8424 0.55
8432 0.66
8440 0.58
8448 0.72
8455 0.6
8462 0.25
8470 0.66
8478 0.6
8486 0.7
8494 0.62
8502 0.92
8510 0.6
8518 0.66
8526 0.6
8534 0.68
8542 0.58
8550 0.64
8558 0.6
8566 0.67
8574 0.56
8582 0.64
8590 0.6
8598 0.66
8606 0.58
8614 0.64
8622 0.6
8630 0.7
8638 0.58
8646 0.64
8654 0.6
8663 0.79
8670 0.6
8678 0.66
8686 0.58
8694 0.62
8702 0.56
8710 0.64
8718 0.6
8726 0.66
8734 0.62
8744 0.85
8752 0.7
8758 0.29
8762 1.9
8764 2.42
8768 1.6
8772 2.1
8776 1.2
8780 0.92
8785 1.2
8789 1.49
8794 1.0
8799 0.92
8806 0.7
8815 0.47
8822 0.75
8830 0.86
8838 0.68
8845 1.03
8852 0.7
8860 0.9
8868 0.64
8876 0.82
8885 0.36
8892 0.8
8900 0.66
8908 0.88
8916 0.6
8926 1.0
8934 0.7
8942 0.84
8950 0.58
8956 0.36
8964 0.72
8972 0.8
8980 0.64
8988 0.86
8996 0.62
9006 0.84
9014 0.6
9022 0.52
9030 0.5
9038 0.56
9046 0.45
9054 0.55
9062 0.5
9070 0.58
9078 0.46
9087 0.7
9094 0.5
9102 0.55
9110 0.46
9118 0.54
9126 0.5
9134 0.58
9142 0.44
9150 0.52
9158 0.48
9166 0.56
9174 0.46
9182 0.54
9190 0.5
9200 0.52
}\specD

\pgfplotsset{
  spec/.style={
    scale only axis, anchor=south west,
    width=532.3pt,
    xmin=3600, xmax=9200,
    xtick={4000,4500,...,9000},
    minor xtick={3700,3800,...,9100},
    xticklabels={},
    tick align=inside,
    major tick length=5pt, minor tick length=3pt,
    tick style={black, line width=0.6pt},
    axis line style={line width=1pt},
    tick label style={font=\fontsize{7.7}{8}\selectfont},
    yticklabel style={xshift=-2pt},
    every axis y label/.style={at={(axis description cs:-0.098,0.5)}, rotate=90, anchor=center,
      font=\fontsize{7.5}{8}\selectfont},
    ylabel={Flux (erg cm\textsuperscript{-2} s\textsuperscript{-1} A\textsuperscript{-1})},
  },
  sp/.style={black, line width=0.7pt, mark=none},
  mk/.style={black, line width=0.7pt, mark=none},
}
\tikzset{
  lbl/.style={rotate=90, anchor=east, inner sep=0pt, font=\fontsize{5.8}{6}\selectfont},
  gal/.style={anchor=base east, inner sep=0pt, font=\fontsize{8.2}{9}\selectfont},
}
\newcommand\mk[3]{%
  \addplot[mk] coordinates {(#1,\yT) (#2,\yK) (#2,\yB)};
  \node[lbl] at (axis cs:#1,\yL) {#3};
}

\begin{document}
\begin{tikzpicture}
\useasboundingbox (0,0) rectangle (600pt,814pt);

% Galaxy 9
\def\yT{5}\def\yK{4.47}\def\yB{3.79}\def\yL{5.87}
\begin{axis}[spec, at={(62.2pt,622pt)}, height=189pt,
  ymin=0, ymax=6, ytick={0,5}, minor ytick={1,2,3,4},
  yticklabels={0, 5.0 10\textsuperscript{ 17}}]
\addplot[sp] table {\specA};
\mk{3828}{3828}{[Ne V]}
\mk{3919}{3919}{[Ne V]}
\mk{4264}{4264}{[O II]}
\mk{4399}{4426}{[NeIII]}
\mk{4485}{4500}{K Ca}
\mk{4586}{4539}{H Ca}
\mk{4924}{4924}{G CH}
\mk{5115}{5115}{He I}
\mk{5361}{5361}{He II}
\mk{5561}{5561}{H beta}
\mk{5659}{5673}{}
\mk{5753}{5728}{[O III]}
\mk{5920}{5920}{Mg I}
\mk{6694}{6722}{He I}
\mk{6791}{6742}{Na}
\mk{7207}{7207}{[OI]}
\mk{7508}{7508}{H alpha}
\mk{7692}{7692}{[SII]}
\mk{8164}{8164}{[ArIII]}
\node[gal] at (rel axis cs:0.998,0.05) {Galaxy \#9: z = 0.144};
\end{axis}

% Galaxy 10
\def\yT{8.33}\def\yK{7.47}\def\yB{6.32}\def\yL{9.78}
\begin{axis}[spec, at={(62.2pt,424.5pt)}, height=188pt,
  ymin=0, ymax=10, ytick={0,5,10}, minor ytick={1,2,3,4,6,7,8,9},
  yticklabels={0, 5.0 10\textsuperscript{-17}, 1.0 10\textsuperscript{-16}}]
\addplot[sp] table {\specB};
\mk{3821}{3821}{[Ne V]}
\mk{3912}{3912}{[Ne V]}
\mk{4256}{4256}{[O II]}
\mk{4392}{4418}{[NeIII]}
\mk{4480}{4493}{K Ca}
\mk{4578}{4531}{H Ca}
\mk{4915}{4915}{G CH}
\mk{5106}{5106}{He I}
\mk{5351}{5351}{He II}
\mk{5551}{5551}{H beta}
\mk{5649}{5663}{}
\mk{5743}{5718}{[O III]}
\mk{5910}{5910}{Mg I}
\mk{6685}{6710}{He I}
\mk{6775}{6730}{Na}
\mk{7195}{7195}{[OI]}
\mk{7495}{7495}{H alpha}
\mk{7679}{7679}{[SII]}
\mk{8149}{8149}{[ArIII]}
\node[gal] at (rel axis cs:0.998,0.05) {Galaxy \#10: z = 0.142};
\end{axis}

% Galaxy 11 (units of 1e-18)
\def\yT{16.66}\def\yK{15}\def\yB{12.64}\def\yL{19.56}
\begin{axis}[spec, at={(62.2pt,223.5pt)}, height=188pt,
  ymin=0, ymax=20, ytick={0,5,10,15,20},
  minor ytick={1,2,3,4,6,7,8,9,11,12,13,14,16,17,18,19},
  yticklabels={0, 5.0 10\textsuperscript{-18}, 1.0 10\textsuperscript{-17},
    1.5 10\textsuperscript{-17}, 2.0 10\textsuperscript{-17}}]
\addplot[sp] table {\specC};
\mk{3738}{3738}{MgII}
\mk{4470}{4470}{[Ne V]}
\mk{4577}{4577}{[Ne V]}
\mk{4979}{4979}{[O II]}
\mk{5139}{5169}{[NeIII]}
\mk{5240}{5256}{K Ca}
\mk{5330}{5301}{H Ca}
\mk{5750}{5750}{G CH}
\mk{5973}{5973}{He I}
\mk{6260}{6260}{He II}
\mk{6494}{6494}{H beta}
\mk{6604}{6625}{}
\mk{6700}{6689}{[O III]}
\mk{6914}{6914}{Mg I}
\mk{7807}{7850}{He I}
\mk{7898}{7873}{Na}
\mk{8417}{8417}{[OI]}
\mk{8768}{8768}{H alpha}
\mk{8983}{8983}{[SII]}
\node[gal] at (rel axis cs:1.002,0.05) {Galaxy \#11: z = 0.336};
\end{axis}

% Galaxy 12
\def\yT{3.30}\def\yK{2.95}\def\yB{2.46}\def\yL{3.91}
\begin{axis}[spec, at={(64.5pt,22.5pt)}, height=188.5pt, width=531.3pt,
  ymin=-0.19, ymax=4, ytick={0,1,2,3,4},
  minor ytick={0.2,0.4,0.6,0.8,1.2,1.4,1.6,1.8,2.2,2.4,2.6,2.8,3.2,3.4,3.6,3.8},
  yticklabels={0, 1.0 10\textsuperscript{-17}, 2.0 10\textsuperscript{-17},
    3.0 10\textsuperscript{-17}, 4.0 10\textsuperscript{-17}},
  xticklabels={4000,4500,5000,5500,6000,6500,7000,7500,8000,8500,9000},
  xlabel={Wavelength (A)},
  xlabel style={at={(axis description cs:0.5,0)}, anchor=center, yshift=-16.5pt,
    font=\fontsize{7.8}{8}\selectfont}]
\addplot[sp] table {\specD};
\mk{3738}{3738}{MgII}
\mk{4470}{4470}{[Ne V]}
\mk{4577}{4577}{[Ne V]}
\mk{4979}{4979}{[O II]}
\mk{5139}{5169}{[NeIII]}
\mk{5240}{5256}{K Ca}
\mk{5330}{5301}{H Ca}
\mk{5750}{5750}{G CH}
\mk{5973}{5973}{He I}
\mk{6260}{6260}{He II}
\mk{6494}{6494}{H beta}
\mk{6604}{6625}{}
\mk{6700}{6689}{[O III]}
\mk{6914}{6914}{Mg I}
\mk{7807}{7850}{He I}
\mk{7898}{7873}{Na}
\mk{8417}{8417}{[OI]}
\mk{8768}{8768}{H alpha}
\mk{8983}{8983}{[SII]}
\node[gal] at (rel axis cs:1.002,0.05) {Galaxy \#12: z = 0.336};
\end{axis}
\end{tikzpicture}
\end{document}
